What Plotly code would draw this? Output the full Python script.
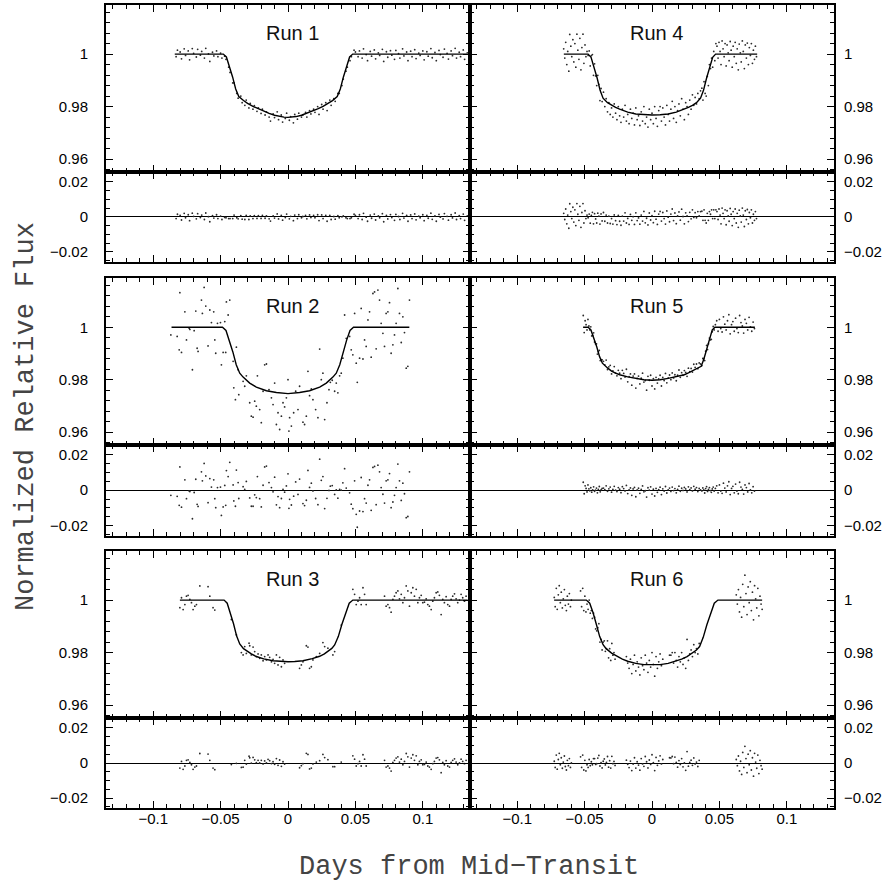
import plotly.graph_objects as go

# ---------------- axis settings / tick labels ----------------
X_RANGE = [-0.135, 0.135]
FLUX_RANGE = [0.9552, 1.0187]
RESID_RANGE = [-0.0258, 0.0258]

run_labels = ["Run 1", "Run 2", "Run 3", "Run 4", "Run 5", "Run 6"]
x_tickvals = [-0.1, -0.05, 0, 0.05, 0.1]
x_ticktext = ["\u22120.1", "\u22120.05", "0", "0.05", "0.1"]
flux_tickvals = [0.96, 0.98, 1.0]
flux_ticktext = ["0.96", "0.98", "1"]
resid_tickvals = [-0.02, 0, 0.02]
resid_ticktext = ["\u22120.02", "0", "0.02"]

# ---------------- data (times in 1e-3 day, residuals in 1e-3) ----------------
# Run 1
run1_t = ([-83, -82, -80, -79, -77, -76, -74, -73, -71, -70, -68, -67, -65, -64, -62, -61, -59, -58, -56, -55, -53, -52, -50]
          + [-49, -47, -46, -44, -43, -41, -40, -38, -37]
          + [-35, -34, -32, -31, -29, -28, -26, -25, -23, -22, -20, -19, -17, -16, -14, -13, -11, -10, -8, -7, -5, -4, -2, -1,
             1, 2, 4, 5, 7, 8, 10, 11, 13, 14, 16, 17, 19, 20, 22, 23, 25, 26, 28, 29, 31, 32, 34, 35]
          + [37, 38, 40, 41, 43, 44, 46, 47]
          + [49, 50, 52, 53, 55, 56, 58, 59, 61, 62, 64, 65, 67, 68, 70, 71, 73, 74, 76, 77, 79, 80, 82, 83, 85, 86, 88, 89,
             91, 92, 94, 95, 97, 98, 100, 101, 103, 104, 106, 107, 109, 110, 112, 113, 115, 116, 118, 119, 121, 122, 124, 125,
             127, 128, 130, 131, 133])
run1_flux = ([0.9990, 1.0015, 1.0008, 0.9982, 1.0020, 0.9995, 1.0012, 0.9978, 1.0021, 1.0003, 0.9989, 1.0018, 0.9996, 1.0010,
              0.9985, 1.0022, 1.0001, 0.9972, 1.0007, 0.9993, 1.0012, 0.9990, 1.0004]
             + [0.9985, 0.9992, 0.9980, 0.9950, 0.9930, 0.9890, 0.9890, 0.9850, 0.9832]
             + [0.9840, 0.9815, 0.9805, 0.9825, 0.9795, 0.9812, 0.9790, 0.9804, 0.9782, 0.9795, 0.9774, 0.9790, 0.9768, 0.9780,
                0.9760, 0.9745, 0.9772, 0.9758, 0.9780, 0.9750, 0.9768, 0.9741, 0.9755, 0.9775,
                0.9748, 0.9762, 0.9738, 0.9770, 0.9752, 0.9775, 0.9760, 0.9768, 0.9778, 0.9760, 0.9785, 0.9772, 0.9790, 0.9778,
                0.9800, 0.9770, 0.9808, 0.9790, 0.9815, 0.9785, 0.9825, 0.9805, 0.9830, 0.9820]
             + [0.9850, 0.9850, 0.9880, 0.9905, 0.9935, 0.9950, 0.9975, 0.9990]
             + [1.0015, 1.0008, 0.9990, 1.0012, 0.9985, 1.0020, 0.9998, 0.9975, 1.0010, 0.9992, 1.0016, 0.9982, 1.0005, 0.9995,
                1.0018, 0.9972, 1.0009, 0.9988, 1.0013, 0.9996, 0.9980, 1.0014, 1.0002, 0.9985, 1.0020, 0.9993, 1.0008, 0.9975,
                1.0011, 0.9990, 1.0017, 0.9983, 1.0004, 0.9995, 1.0012, 0.9978, 1.0009, 0.9992, 1.0021, 0.9986, 1.0006, 0.9975,
                1.0014, 0.9998, 0.9988, 1.0019, 1.0003, 0.9981, 1.0012, 0.9994, 1.0022, 0.9985, 1.0007, 0.9990, 1.0016, 0.9980,
                1.0005])
run1_resid = ([-1.0, 1.5, 0.8, -1.8, 2.0, -0.5, 1.2, -2.2, 2.1, 0.3, -1.1, 1.8, -0.4, 1.0, -1.5, 2.2, 0.1, -2.8, 0.7, -0.7,
               1.2, -1.0, 0.4]
              + [-1.5, -0.3, -0.5, -1.0, -1.0, -1.0, 1.0, -0.5, -1.1]
              + [0.7, -1.3, -1.5, 0.8, -1.5, 0.6, -1.0, 0.7, -0.9, 0.7, -0.9, 0.9, -0.8, 0.6, -1.1, -2.4, 0.6, -0.7, 1.7, -1.2,
                 0.8, -1.9, -0.4, 1.6,
                 -1.1, 0.3, -2.2, 1.0, -1.0, 1.2, -0.5, 0.2, 0.9, -1.1, 1.1, -0.4, 0.9, -0.5, 1.2, -2.1, 1.1, -1.0, 0.9, -2.5,
                 0.8, -1.5, 0.2, -1.3]
              + [0.7, -0.5, 0.0, 0.5, -0.5, -1.0, -1.0, -0.5]
              + [1.5, 0.8, -1.0, 1.2, -1.5, 2.0, -0.2, -2.5, 1.0, -0.8, 1.6, -1.8, 0.5, -0.5, 1.8, -2.8, 0.9, -1.2, 1.3, -0.4,
                 -2.0, 1.4, 0.2, -1.5, 2.0, -0.7, 0.8, -2.5, 1.1, -1.0, 1.7, -1.7, 0.4, -0.5, 1.2, -2.2, 0.9, -0.8, 2.1, -1.4,
                 0.6, -2.5, 1.4, -0.2, -1.2, 1.9, 0.3, -1.9, 1.2, -0.6, 2.2, -1.5, 0.7, -1.0, 1.6, -2.0, 0.5])
run1_model_t = [-84, -48.0, -45.7, -43.4, -41.1, -38.8, -36.5, -33, -30, -26, -22, -18, -14, -10, -6, -3, 0,
                3, 6, 10, 14, 18, 22, 26, 30, 33, 36.5, 38.8, 41.1, 43.4, 45.7, 48.0, 133]
run1_model_flux = [1.0, 1.0, 0.9989, 0.9955, 0.9913, 0.9867, 0.9838, 0.9823, 0.9812, 0.9801, 0.9791, 0.9782, 0.9774, 0.9767,
                   0.9762, 0.9760, 0.9759, 0.9760, 0.9762, 0.9767, 0.9774, 0.9782, 0.9791, 0.9801, 0.9812, 0.9823, 0.9838,
                   0.9867, 0.9913, 0.9955, 0.9989, 1.0, 1.0]

# Run 2
run2_t = ([-86.9, -82.2, -80.7, -80.2, -79.0, -76.5, -75.3, -73.3, -72.8, -70.9, -69.6, -68.4, -67.4, -66.7, -64.2, -63.5,
           -62.2, -61.0, -59.3, -58.0, -56.8, -55.1, -54.3, -53.6, -52.3, -50.1, -49.4, -48.1, -46.9, -46.2, -45.7, -44.4, -43.2]
          + [-40.7, -40.2, -39.0, -38.3, -37.0, -36.5, -33.3, -32.1, -30.9, -28.4, -27.2, -25.9, -24.7, -23.5, -22.7, -21.0,
             -19.8, -18.5, -17.3, -16.0, -14.1, -12.3, -11.1, -9.9, -8.6, -7.4, -6.2, -4.9, -3.7, -2.5, -1.2, 0.0, 0.7, 1.2,
             2.5, 4.2, 5.7, 7.4, 8.6, 11.1, 12.3, 13.6, 14.8, 16.0, 17.3, 18.5, 20.5, 22.2, 23.5, 24.7, 25.9, 27.2, 28.9,
             30.4, 31.4, 32.8, 34.6, 35.8, 37.0, 38.3, 39.5, 40.7]
          + [42.0, 43.2, 45.7, 46.9, 48.1, 49.4, 50.6, 51.4, 53.1, 54.3, 55.6, 56.8, 58.0, 59.3, 60.5, 61.7, 63.0, 64.2,
             65.4, 66.7, 67.9, 69.1, 70.4, 71.6, 72.8, 74.1, 75.3, 76.5, 77.8, 79.0, 80.2, 81.5, 82.7, 84.0, 85.2, 86.4,
             87.7, 88.9, 90.1])
run2_flux = ([0.9971, 0.9965, 0.9914, 1.0132, 0.9904, 1.0059, 0.9952, 0.9996, 0.9992, 0.9838, 0.9987, 1.0062, 0.9920, 0.9908,
              1.0104, 1.0053, 1.0152, 1.0081, 0.9929, 1.0066, 1.0018, 1.0059, 0.9952, 0.9901, 1.0015, 1.0018, 0.9857, 0.9904,
              1.0022, 0.9904, 1.0097, 1.0047, 1.0104]
             + [0.9870, 0.9769, 0.9724, 0.9924, 0.9838, 0.9743, 0.9794, 0.9775, 0.9815, 0.9712, 0.9661, 0.9657, 0.9718, 0.9699,
                0.9815, 0.9686, 0.9636, 0.9756, 0.9857, 0.9860, 0.9762, 0.9731, 0.9705, 0.9787, 0.9629, 0.9674, 0.9610, 0.9661,
                0.9712, 0.9696, 0.9731, 0.9800, 0.9604, 0.9655, 0.9623, 0.9674, 0.9756, 0.9686, 0.9775, 0.9638, 0.9629, 0.9661,
                0.9832, 0.9739, 0.9765, 0.9724, 0.9686, 0.9655, 0.9917, 0.9800, 0.9825, 0.9648, 0.9712, 0.9762, 0.9790, 0.9798,
                0.9756, 0.9787, 0.9750, 0.9815, 0.9825, 0.9882]
             + [1.0047, 0.9958, 0.9965, 0.9914, 0.9895, 1.0053, 0.9863, 0.9790, 0.9882, 1.0072, 0.9879, 0.9952, 0.9927, 1.0028,
                1.0059, 0.9886, 1.0129, 1.0135, 0.9918, 1.0142, 1.0104, 1.0015, 0.9977, 0.9927, 1.0053, 1.0059, 1.0094, 0.9901,
                0.9933, 0.9971, 1.0015, 1.0148, 1.0053, 0.9942, 1.0040, 0.9980, 0.9844, 0.9851, 1.0104])
run2_resid = ([-2.9, -3.5, -8.6, 13.2, -9.6, 5.9, -4.8, -0.4, -0.8, -16.2, -1.3, 6.2, -8.0, -9.2, 10.4, 5.3, 15.2, 8.1,
               -7.1, 6.6, 1.8, 5.9, -4.8, -9.9, 1.5, 1.8, -14.3, -9.5, 2.7, -8.6, 11.1, 7.7, 15.8]
              + [3.0, -6.1, -9.1, 11.4, 4.3, -4.7, 2.0, 0.5, 5.0, -4.4, -9.1, -9.1, -2.6, -4.2, 7.7, -4.8, -9.5, 2.8, 13.2,
                 13.7, 4.3, 1.5, -0.9, 7.4, -8.3, -3.6, -9.9, -4.7, 0.5, -1.1, 2.4, 9.3, -10.3, -5.2, -8.4, -3.4, 4.7, -2.4,
                 6.3, -7.6, -8.7, -5.7, 11.2, 1.6, 4.0, -0.4, -4.7, -8.2, 17.6, 5.6, 7.7, -10.4, -4.6, -0.1, 2.3, 2.6, -2.4,
                 0.2, -4.5, 0.5, 0.0, 4.2]
              + [12.2, 1.2, -1.5, -7.9, -10.5, 5.3, -13.7, -21.0, -11.8, 7.2, -12.1, -4.8, -7.3, 2.8, 5.9, -11.4, 12.9, 13.5,
                 -8.2, 14.2, 10.4, 1.5, -2.3, -7.3, 5.3, 5.9, 9.4, -9.9, -6.7, -2.9, 1.5, 14.8, 5.3, -5.8, 4.0, -2.0, -15.6,
                 -14.9, 10.4])
run2_model_t = [-86.4, -48.6, -46.0, -43.5, -40.9, -38.4, -35.8, -33.3, -28.4, -23.5, -16.0, -8.6, 0,
                8.6, 16.0, 23.5, 28.4, 33.3, 35.8, 38.4, 40.9, 43.5, 46.0, 48.6, 90.0]
run2_model_flux = [1.0, 1.0, 0.9988, 0.9951, 0.9906, 0.9857, 0.9825, 0.9810, 0.9787, 0.9772, 0.9758, 0.9751, 0.9747,
                   0.9751, 0.9758, 0.9772, 0.9787, 0.9810, 0.9825, 0.9857, 0.9906, 0.9951, 0.9988, 1.0, 1.0]

# Run 3
run3_t = ([-80.2, -79.0, -77.8, -76.5, -75.3, -74.1, -72.8, -71.6, -70.4, -69.1, -67.9, -65.4, -59.3, -58.0, -55.6, -54.3]
          + [-42.0, -38.3]
          + [-34.6, -33.3, -32.1, -30.9, -28.9, -28.4, -27.2, -25.9, -24.7, -23.5, -22.2, -21.0, -19.8, -18.5, -17.3, -16.0,
             -14.8, -13.6, -12.3, -11.1, -9.9, -8.6, -7.4, -6.2, -4.9, -3.7, -2.5]
          + [8.6, 9.9, 11.1, 13.6, 14.8, 16.0, 17.3, 18.5, 21.0, 23.5, 25.9, 27.2, 29.6, 33.3, 34.6]
          + [39.5]
          + [48.1, 49.4, 50.6, 51.9, 53.1, 54.3, 55.6, 56.8, 58.0]
          + [71.6, 72.8, 74.1, 75.3, 76.5, 77.8, 79.0, 80.2, 81.5, 82.7, 84.0, 85.2, 86.4, 87.7, 88.9, 90.1, 91.4, 92.6,
             93.8, 95.1, 96.3, 97.5, 98.8, 100.0, 101.2, 102.5, 103.7, 104.9, 106.2, 107.4, 108.6, 109.9, 111.1, 112.3,
             113.6, 114.8, 116.0, 117.3, 118.5, 119.8, 121.0, 122.2, 123.5, 124.7, 125.9, 127.2, 128.4, 129.6, 130.9, 132.1])
run3_flux = ([0.9971, 1.0009, 0.9964, 0.9983, 1.0015, 1.0018, 1.0003, 0.9990, 0.9964, 0.9977, 0.9983, 1.0054, 1.0051, 1.0015,
              0.9971, 0.9962]
             + [0.9926, 0.9868]
             + [0.9800, 0.9791, 0.9823, 0.9797, 0.9836, 0.9826, 0.9791, 0.9821, 0.9804, 0.9785, 0.9795, 0.9778, 0.9791, 0.9769,
                0.9785, 0.9772, 0.9791, 0.9782, 0.9765, 0.9774, 0.9759, 0.9791, 0.9753, 0.9782, 0.9746, 0.9772, 0.9759]
             + [0.9740, 0.9753, 0.9765, 0.9826, 0.9821, 0.9740, 0.9746, 0.9772, 0.9785, 0.9797, 0.9838, 0.9823, 0.9817, 0.9791,
                0.9804]
             + [0.9905]
             + [1.0041, 1.0022, 0.9983, 0.9996, 1.0009, 0.9983, 1.0047, 1.0022, 0.9983]
             + [1.0015, 0.9977, 0.9983, 0.9971, 0.9954, 1.0003, 1.0015, 1.0028, 1.0035, 1.0005, 1.0022, 0.9990, 1.0009, 1.0054,
                1.0035, 0.9977, 1.0028, 1.0047, 1.0015, 1.0041, 0.9990, 1.0009, 1.0018, 0.9990, 0.9992, 1.0005, 0.9983, 0.9977,
                0.9964, 0.9996, 1.0009, 1.0028, 1.0031, 1.0018, 0.9945, 1.0003, 0.9990, 1.0013, 0.9983, 0.9977, 1.0003, 1.0015,
                1.0024, 1.0005, 0.9990, 1.0000, 1.0022, 1.0009, 0.9996, 1.0015])
run3_resid = ([-2.9, 0.9, -3.6, -1.7, 1.5, 1.8, 0.3, -1.0, -3.6, -2.3, -1.7, 5.4, 5.1, 1.5, -2.9, -3.8]
              + [-0.9, -0.2]
              + [-2.5, -2.4, 1.5, -0.6, 3.9, 3.0, -0.1, 3.2, 1.8, 0.2, 1.5, 0.0, 1.5, -0.5, 1.2, 0.1, 2.1, 1.3, -0.3, 0.7,
                 -0.7, 2.5, -1.3, 1.7, -1.9, 0.7, -0.6]
              + [-2.7, -1.5, -0.4, 5.5, 4.9, -3.4, -2.9, -0.5, 0.5, 1.3, 4.9, 3.1, 1.9, -2.1, -2.1]
              + [0.5]
              + [4.1, 2.2, -1.7, -0.4, 0.9, -1.7, 4.7, 2.2, -1.7]
              + [1.5, -2.3, -1.7, -2.9, -4.6, 0.3, 1.5, 2.8, 3.5, 0.5, 2.2, -1.0, 0.9, 5.4, 3.5, -2.3, 2.8, 4.7, 1.5, 4.1,
                 -1.0, 0.9, 1.8, -1.0, -0.8, 0.5, -1.7, -2.3, -3.6, -0.4, 0.9, 2.8, 3.1, 1.8, -5.5, 0.3, -1.0, 1.3, -1.7, -2.3,
                 0.3, 1.5, 2.4, 0.5, -1.0, 0.0, 2.2, 0.9, -0.4, 1.5])
run3_model_t = [-80.2, -47.4, -45.1, -42.8, -40.4, -38.1, -35.8, -33.0, -30.0, -27.2, -23.5, -18.0, -11.1, -5.0, 0,
                5.0, 11.1, 18.0, 23.5, 27.0, 30.0, 32.5, 34.6, 37.3, 40.0, 42.7, 45.4, 48.1, 133.3]
run3_model_flux = [1.0, 1.0, 0.9988, 0.9953, 0.9910, 0.9863, 0.9833, 0.9815, 0.9804, 0.9795, 0.9785, 0.9776, 0.9769,
                   0.9766, 0.9765, 0.9766, 0.9769, 0.9777, 0.9786, 0.9795, 0.9805, 0.9816, 0.9829, 0.9861, 0.9908, 0.9952,
                   0.9988, 1.0, 1.0]

# Run 4
run4_t = ([-65.5, -64.7, -64.0, -63.2, -62.5, -61.7, -61.0, -60.2, -59.5, -58.7, -58.0, -57.2, -56.5, -55.7, -55.0, -54.2,
           -53.5, -52.7, -52.0, -51.2, -50.5, -49.7, -49.0, -48.2]
          + [-47.4, -46.6, -45.8, -45.0, -44.2, -43.4, -42.6, -41.8, -41.0, -40.2, -39.4, -38.6, -37.8, -37.0]
          + [-36, -35, -34, -33, -32, -31, -30, -29, -28, -27, -26, -25, -24, -23, -22, -21, -20, -19, -18, -17, -16, -15,
             -14, -13, -12, -11, -10, -9, -8, -7, -6, -5, -4, -3, -2, -1, 0, 1, 2, 3, 4, 5, 6, 7, 8, 9, 10, 11, 12, 13, 14,
             15, 16, 17, 18, 19, 20, 21, 22, 23, 24, 25, 26, 27, 28, 29, 30, 31, 32, 33, 34, 35, 36]
          + [37.0, 37.8, 38.6, 39.4, 40.2, 41.0, 41.8, 42.6, 43.4, 44.2, 45.0, 45.8, 46.6, 47.4]
          + [48.2, 49.0, 49.7, 50.5, 51.2, 52.0, 52.7, 53.5, 54.2, 55.0, 55.7, 56.5, 57.2, 58.0, 58.7, 59.5, 60.2, 61.0,
             61.7, 62.5, 63.2, 64.0, 64.7, 65.5, 66.2, 67.0, 67.7, 68.5, 69.2, 70.0, 70.7, 71.5, 72.2, 73.0, 73.7, 74.5,
             75.2, 76.0, 76.7, 77.5])
run4_flux = ([1.0020, 0.9985, 1.0045, 0.9960, 1.0010, 0.9935, 1.0075, 1.0030, 0.9990, 1.0055, 0.9970, 1.0040, 0.9950, 1.0076,
              1.0015, 0.9980, 1.0060, 0.9940, 1.0025, 1.0076, 0.9965, 1.0035, 0.9990, 1.0010]
             + [0.9995, 1.0012, 0.9955, 0.9994, 0.9998, 0.9919, 0.9963, 0.9917, 0.9880, 0.9919, 0.9885, 0.9823, 0.9869, 0.9819]
             + [0.9855, 0.9800, 0.9830, 0.9780, 0.9815, 0.9770, 0.9795, 0.9760, 0.9810, 0.9775,
                0.9750, 0.9800, 0.9765, 0.9740, 0.9790, 0.9760, 0.9805, 0.9745, 0.9770, 0.9735,
                0.9790, 0.9755, 0.9775, 0.9730, 0.9795, 0.9750, 0.9765, 0.9728, 0.9780, 0.9745,
                0.9800, 0.9735, 0.9760, 0.9722, 0.9790, 0.9750, 0.9775, 0.9735, 0.9800, 0.9755,
                0.9725, 0.9785, 0.9800, 0.9745, 0.9795, 0.9760, 0.9730, 0.9805, 0.9770, 0.9745,
                0.9790, 0.9820, 0.9755, 0.9800, 0.9740, 0.9785, 0.9810, 0.9765, 0.9830, 0.9790,
                0.9750, 0.9815, 0.9800, 0.9770, 0.9825, 0.9790, 0.9845, 0.9805, 0.9835, 0.9810,
                0.9850, 0.9830, 0.9860]
             + [0.9870, 0.9825, 0.9895, 0.9850, 0.9840, 0.9915, 0.9880, 0.9960, 0.9945, 0.9985, 0.9950, 1.0010, 0.9975, 1.0040]
             + [1.0030, 0.9985, 1.0045, 1.0010, 0.9960, 1.0050, 1.0020, 0.9990, 1.0040, 0.9955, 1.0035, 1.0005, 0.9975, 1.0048,
                1.0015, 0.9950, 1.0030, 0.9990, 1.0045, 0.9965, 1.0020, 0.9940, 1.0038, 1.0005, 0.9970, 1.0050, 1.0010, 0.9945,
                1.0035, 0.9985, 1.0042, 0.9960, 1.0025, 0.9995, 1.0040, 0.9965, 1.0015, 0.9980, 1.0030, 0.9990])
run4_resid = ([2.0, -1.5, 4.5, -4.0, 1.0, -6.5, 7.5, 3.0, -1.0, 5.5, -3.0, 4.0, -5.0, 7.6, 1.5, -2.0, 6.0, -6.0, 2.5, 7.6,
               -3.5, 3.5, -1.0, 1.0]
              + [-0.5, 1.6, -3.6, 0.9, 2.6, -4.0, 1.8, -1.2, -3.5, 2.1, 0.4, -4.1, 1.7, -2.3]
              + [2.5, -2.5, 1.0, -3.5, 0.4, -3.8, -1.0, -4.1, 1.1, -2.2, -4.4, 0.8, -2.5, -4.8, 0.4, -2.4, 2.3, -3.5, -0.9,
                 -4.3, 1.4, -2.0, 0.1, -4.3, 2.3, -2.1, -0.6, -4.2, 1.0, -2.4, 3.1, -3.4, -0.8, -4.6, 2.2, -1.8, 0.7, -3.3,
                 3.2, -1.3, -4.3, 1.6, 3.1, -2.4, 2.5, -1.0, -4.1, 3.4, -0.2, -2.8, 1.6, 4.5, -2.1, 2.2, -3.9, 0.5, 2.8,
                 -1.9, 4.4, 0.2, -4.0, 2.3, 0.6, -2.7, 2.6, -1.1, 4.0, -0.3, 2.4, -0.5, 3.0, 0.5, 3.0]
              + [3.2, -2.0, 4.0, -2.0, -3.5, 2.0, -2.0, 3.0, 1.5, 4.0, -1.0, 4.0, -1.0, 4.0]
              + [3.0, -1.5, 4.5, 1.0, -4.0, 5.0, 2.0, -1.0, 4.0, -4.5, 3.5, 0.5, -2.5, 4.8, 1.5, -5.0, 3.0, -1.0, 4.5, -3.5,
                 2.0, -6.0, 3.8, 0.5, -3.0, 5.0, 1.0, -5.5, 3.5, -1.5, 4.2, -4.0, 2.5, -0.5, 4.0, -3.5, 1.5, -2.0, 3.0, -1.0])
run4_model_t = [-65.4, -47.4, -45.2, -43.0, -40.7, -38.5, -36.3, -33, -30, -27, -24, -18, -12, -6, 0,
                6, 12, 18, 24, 27, 30, 33, 36.0, 38.2, 40.5, 42.7, 45.0, 47.2, 78.0]
run4_model_flux = [1.0, 1.0, 0.9988, 0.9953, 0.9909, 0.9862, 0.9832, 0.9815, 0.9805, 0.9797, 0.9790, 0.9779, 0.9772,
                   0.9769, 0.9768, 0.9769, 0.9772, 0.9779, 0.9790, 0.9797, 0.9805, 0.9815, 0.9832, 0.9862, 0.9909, 0.9953,
                   0.9988, 1.0, 1.0]

# Run 5
run5_t = ([-51.0, -50.3, -49.6, -48.9, -48.2, -47.5]
          + [-46.8, -46.1, -45.4, -44.7, -44.0, -43.3, -42.6, -41.9, -41.2, -40.5, -39.8, -39.1, -38.4, -37.7, -37.0]
          + [-36, -35, -34, -33, -32, -31, -30, -29, -28, -27, -26, -25, -24, -23, -22, -21, -20, -19, -18, -17, -16, -15,
             -14, -13, -12, -11, -10, -9, -8, -7, -6, -5, -4, -3, -2, -1, 0, 1, 2, 3, 4, 5, 6, 7, 8, 9, 10, 11, 12, 13, 14,
             15, 16, 17, 18, 19, 20, 21, 22, 23, 24, 25, 26, 27, 28, 29, 30, 31, 32, 33, 34, 35, 36]
          + [37.0, 37.7, 38.4, 39.1, 39.8, 40.5, 41.2, 41.9, 42.6, 43.3, 44.0, 44.7, 45.4, 46.1]
          + [47, 48, 49, 50, 51, 52, 53, 54, 55, 56, 57, 58, 59, 60, 61, 62, 63, 64, 65, 66, 67, 68, 69, 70, 71, 72, 73, 74,
             75, 76])
run5_flux = ([1.0045, 0.9980, 1.0025, 1.0010, 0.9990, 1.0030]
             + [1.0005, 0.9990, 1.0002, 0.9967, 0.9969, 0.9979, 0.9944, 0.9937, 0.9937, 0.9898, 0.9907, 0.9912, 0.9873, 0.9877,
                0.9876]
             + [0.9870, 0.9857, 0.9875, 0.9839, 0.9849, 0.9855, 0.9822, 0.9834, 0.9850, 0.9825,
                0.9815, 0.9836, 0.9825, 0.9804, 0.9836, 0.9824, 0.9810, 0.9840, 0.9792, 0.9812,
                0.9822, 0.9779, 0.9814, 0.9822, 0.9768, 0.9805, 0.9814, 0.9784, 0.9806, 0.9825,
                0.9791, 0.9797, 0.9760, 0.9813, 0.9798, 0.9817, 0.9776, 0.9804, 0.9765, 0.9809,
                0.9787, 0.9803, 0.9817, 0.9776, 0.9809, 0.9797, 0.9824, 0.9788, 0.9807, 0.9818,
                0.9800, 0.9826, 0.9807, 0.9819, 0.9796, 0.9817, 0.9837, 0.9809, 0.9827, 0.9817,
                0.9835, 0.9828, 0.9813, 0.9844, 0.9831, 0.9843, 0.9829, 0.9859, 0.9847, 0.9860,
                0.9842, 0.9864, 0.9860]
             + [0.9854, 0.9881, 0.9880, 0.9873, 0.9909, 0.9931, 0.9915, 0.9937, 0.9959, 0.9952, 0.9954, 0.9983, 1.0003, 0.9990]
             + [1.0010, 1.0025, 0.9985, 1.0030, 0.9995, 0.9982, 1.0040, 1.0012, 0.9990, 1.0025, 1.0048, 0.9975, 1.0010, 1.0022,
                0.9985, 1.0035, 0.9995, 0.9980, 1.0045, 1.0018, 1.0005, 0.9978, 1.0030, 1.0015, 0.9990, 1.0038, 1.0002, 0.9985,
                1.0020, 0.9995])
run5_resid = ([4.5, -2.0, 2.5, 1.0, -1.0, 3.0]
              + [0.8, -0.3, 1.4, -1.1, 0.2, 1.9, -0.6, 0.0, 1.2, -1.5, 0.5, 2.1, -0.9, 0.3, 1.0]
              + [1.2, 0.3, 2.5, -0.6, 0.8, 1.8, -1.1, 0.4, 2.2, 0.0, -0.8, 1.5, 0.6, -1.4, 2.0, 0.9, -0.4, 2.7, -1.9, 0.2,
                 1.3, -2.9, 0.7, 1.6, -3.7, 0.1, 1.1, -1.8, 0.5, 2.4, -0.9, -0.3, -3.9, 1.4, 0.0, 1.9, -2.2, 0.6, -3.3, 1.0,
                 -1.2, 0.3, 1.7, -2.5, 0.8, -0.5, 2.1, -1.6, 0.2, 1.2, -0.7, 1.8, -0.2, 0.9, -1.5, 0.4, 2.3, -0.6, 1.1, -0.1,
                 1.6, 0.7, -1.0, 1.9, 0.3, 1.3, -0.4, 2.2, 0.6, 1.5, -0.8, 1.0, 0.2]
              + [-0.4, 1.3, 0.2, -1.6, 0.9, 2.0, -0.7, 0.4, 1.5, -0.2, -1.2, 0.7, 1.8, -0.5]
              + [1.0, 2.5, -1.5, 3.0, -0.5, -1.8, 4.0, 1.2, -1.0, 2.5, 4.8, -2.5, 1.0, 2.2, -1.5, 3.5, -0.5, -2.0, 4.5, 1.8,
                 0.5, -2.2, 3.0, 1.5, -1.0, 3.8, 0.2, -1.5, 2.0, -0.5])
run5_model_t = [-51.1, -47.4, -45.3, -43.2, -41.0, -38.9, -36.8, -33, -30, -27, -24, -18, -12, -6, 0,
                6, 12, 18, 24, 27, 30, 33, 36.5, 38.5, 40.6, 42.6, 44.7, 46.7, 76.3]
run5_model_flux = [1.0, 1.0, 0.9990, 0.9962, 0.9926, 0.9888, 0.9863, 0.9845, 0.9833, 0.9825, 0.9819, 0.9811, 0.9805,
                   0.9800, 0.9798, 0.9800, 0.9805, 0.9811, 0.9819, 0.9826, 0.9833, 0.9842, 0.9851, 0.9879, 0.9917, 0.9957,
                   0.9990, 1.0, 1.0]

# Run 6
run6_t = ([-72.5, -71.8, -71.0, -70.3, -69.5, -68.8, -68.0, -67.3, -66.5, -65.8, -65.0, -64.3, -63.5, -62.8, -62.0, -61.3,
           -60.5, -59.8]
          + [-53.0, -52.2, -51.4, -50.6, -49.8, -49.0, -48.2, -47.4, -46.6, -45.8, -45.0, -44.2, -43.4, -42.6, -41.8, -41.0,
             -40.2, -39.4, -38.6, -37.8, -37.0, -36.2, -35.4, -34.6, -33.8, -33.0, -32.2, -31.4, -30.6, -29.8, -29.0, -28.2,
             -27.4]
          + [-19, -18, -17, -16, -15, -14, -13, -12, -11, -10, -9, -8, -7, -6, -5, -4, -3, -2, -1, 0, 1, 2, 3, 4, 5, 6, 7, 8]
          + [13, 14, 15, 16, 17, 18, 19, 20, 21, 22, 23, 24, 25, 26, 27, 28, 29, 30, 31, 32, 33, 34, 35]
          + [62.5, 63.3, 64.1, 64.9, 65.7, 66.5, 67.3, 68.1, 68.9, 69.7, 70.5, 71.3, 72.1, 72.9, 73.7, 74.5, 75.3, 76.1,
             76.9, 77.7, 78.5, 79.3, 80.1, 80.9, 81.7])
run6_flux = ([1.0010, 0.9975, 1.0045, 0.9965, 1.0020, 1.0055, 0.9990, 1.0030, 0.9970, 1.0005, 1.0040, 0.9980, 0.9960, 1.0015,
              0.9985, 1.0025, 0.9975, 1.0000]
             + [1.0035, 0.9975, 1.0045, 0.9960, 1.0015, 0.9955, 0.9985, 0.9965, 1.0000, 0.9950, 0.9960, 0.9930, 0.9950, 0.9935,
                0.9890, 0.9883, 0.9895, 0.9910, 0.9840, 0.9850, 0.9810, 0.9840, 0.9845, 0.9805, 0.9815, 0.9845, 0.9780, 0.9815,
                0.9770, 0.9835, 0.9790, 0.9800, 0.9775]
             + [0.9785, 0.9760, 0.9740, 0.9775, 0.9720, 0.9755, 0.9790, 0.9730, 0.9765, 0.9745, 0.9715, 0.9780, 0.9750, 0.9735,
                0.9790, 0.9760, 0.9725, 0.9770, 0.9745, 0.9800, 0.9755, 0.9710, 0.9785, 0.9740, 0.9765, 0.9795, 0.9750, 0.9775]
             + [0.9790, 0.9790, 0.9800, 0.9760, 0.9800, 0.9770, 0.9745, 0.9785, 0.9765, 0.9800, 0.9755, 0.9780, 0.9740, 0.9850,
                0.9770, 0.9795, 0.9810, 0.9785, 0.9830, 0.9800, 0.9815, 0.9795, 0.9835]
             + [1.0020, 0.9985, 1.0040, 0.9955, 1.0010, 0.9935, 1.0060, 0.9975, 1.0095, 1.0025, 0.9945, 1.0050, 0.9990, 1.0070,
                0.9960, 1.0030, 0.9925, 1.0055, 1.0005, 0.9970, 1.0045, 0.9940, 1.0015, 0.9985, 0.9965])
run6_resid = ([1.0, -2.5, 4.5, -3.5, 2.0, 5.5, -1.0, 3.0, -3.0, 0.5, 4.0, -2.0, -4.0, 1.5, -1.5, 2.5, -2.5, 0.0]
              + [3.5, -2.5, 4.5, -4.0, 1.5, -4.5, -1.0, -2.5, 2.0, -1.5, 0.7, -1.0, 2.5, 2.5, -0.8, -0.4, 2.8, 4.3, -1.7,
                 0.2, -2.8, 1.0, 2.3, -1.1, 0.4, 3.7, -2.4, 1.3, -2.9, 3.8, -0.4, 0.9, -1.4]
              + [1.6, -0.7, -2.6, 1.1, -4.3, -0.6, 3.0, -2.9, 0.7, -1.2, -4.1, 2.5, -0.5, -1.9, 3.7, 0.7, -2.8, 1.7, -0.8,
                 4.7, 0.2, -4.3, 3.2, -1.3, 1.2, 4.1, -0.5, 2.0]
              + [3.0, 2.9, 3.7, -0.4, 3.4, 0.3, -2.4, 1.4, -0.8, 2.5, -2.2, 0.0, -4.2, 6.5, -1.8, 0.4, 1.6, -1.3, 2.9, -0.5,
                 0.5, -2.0, 1.5]
              + [2.0, -1.5, 4.0, -4.5, 1.0, -6.5, 6.0, -2.5, 9.5, 2.5, -5.5, 5.0, -1.0, 7.0, -4.0, 3.0, -7.5, 5.5, 0.5,
                 -3.0, 4.5, -6.0, 1.5, -1.5, -3.5])
run6_model_t = [-72.6, -48.7, -46.2, -43.7, -41.3, -38.8, -36.3, -34, -30, -26, -22, -18, -12, -6, 0,
                6, 12, 18, 22, 26, 30, 33, 35.3, 38.0, 40.7, 43.5, 46.2, 48.9, 81.7]
run6_model_flux = [1.0, 1.0, 0.9988, 0.9952, 0.9908, 0.9861, 0.9830, 0.9815, 0.9798, 0.9785, 0.9775, 0.9767, 0.9759,
                   0.9754, 0.9753, 0.9754, 0.9759, 0.9767, 0.9775, 0.9785, 0.9798, 0.9810, 0.9823, 0.9858, 0.9906, 0.9951,
                   0.9988, 1.0, 1.0]

runs = [
    (run1_t, run1_flux, run1_resid, run1_model_t, run1_model_flux),
    (run2_t, run2_flux, run2_resid, run2_model_t, run2_model_flux),
    (run3_t, run3_flux, run3_resid, run3_model_t, run3_model_flux),
    (run4_t, run4_flux, run4_resid, run4_model_t, run4_model_flux),
    (run5_t, run5_flux, run5_resid, run5_model_t, run5_model_flux),
    (run6_t, run6_flux, run6_resid, run6_model_t, run6_model_flux),
]

# ---------------- layout geometry (pixels) ----------------
W, H = 891, 889
col_px = [(106, 470), (470, 834)]
row_px = [(5, 171.7, 262), (278.3, 444.7, 535.7), (551, 717.7, 808.3)]


def fx(p):
    return p / W


def fy(p):
    return 1 - p / H


TICKFONT = dict(family="Liberation Sans, Arial, sans-serif", size=15, color="black")
DOT = dict(size=1.8, color="#2a2a2a")

fig = go.Figure()
layout = dict(width=W, height=H, margin=dict(l=0, r=0, t=0, b=0),
              plot_bgcolor="white", paper_bgcolor="white", showlegend=False)
annotations = []


def base_axis():
    return dict(showline=True, linecolor="black", linewidth=2, mirror="allticks",
                ticks="inside", ticklen=7, tickwidth=1.2, tickcolor="black",
                showgrid=False, zeroline=False, tickfont=TICKFONT, tickmode="array")


for r, (t, flux, resid, mt, mf) in enumerate(runs):
    col, row = r // 3, r % 3
    x0, x1 = col_px[col]
    top, mid, bot = row_px[row]
    for k, kind in enumerate(["flux", "resid"]):
        i = 2 * r + 1 + k
        xs = "" if i == 1 else str(i)
        xa = base_axis()
        xa.update(domain=[fx(x0), fx(x1)], anchor="y" + xs, range=X_RANGE,
                  tickvals=x_tickvals, ticktext=x_ticktext,
                  showticklabels=(kind == "resid" and row == 2), ticklabelstandoff=-4,
                  minor=dict(tickmode="linear", tick0=0, dtick=0.01, ticks="inside", ticklen=4,
                             tickwidth=1.2, tickcolor="black", showgrid=False))
        ya = base_axis()
        if kind == "flux":
            ya.update(domain=[fy(mid), fy(top)], range=FLUX_RANGE,
                      tickvals=flux_tickvals, ticktext=flux_ticktext,
                      minor=dict(tickmode="linear", tick0=0.96, dtick=0.004, ticks="inside", ticklen=4,
                                 tickwidth=1.2, tickcolor="black", showgrid=False))
        else:
            ya.update(domain=[fy(bot), fy(mid)], range=RESID_RANGE,
                      tickvals=resid_tickvals, ticktext=resid_ticktext,
                      zeroline=True, zerolinecolor="black", zerolinewidth=1,
                      minor=dict(tickmode="linear", tick0=0, dtick=0.005, ticks="inside", ticklen=4,
                                 tickwidth=1.2, tickcolor="black", showgrid=False))
        ya.update(anchor="x" + xs, side="left" if col == 0 else "right",
                  ticklabelstandoff=13 if col == 0 else 5)
        layout["xaxis" + xs] = xa
        layout["yaxis" + xs] = ya

        tx = [v / 1000 for v in t]
        if kind == "flux":
            fig.add_trace(go.Scatter(x=tx, y=flux, mode="markers", marker=DOT,
                                     xaxis="x" + xs, yaxis="y" + xs, hoverinfo="skip"))
            fig.add_trace(go.Scatter(x=[v / 1000 for v in mt], y=mf, mode="lines",
                                     line=dict(color="black", width=1.4),
                                     xaxis="x" + xs, yaxis="y" + xs, hoverinfo="skip"))
            annotations.append(dict(text=run_labels[r], xref="x" + xs, yref="paper",
                                    x=0.003, y=fy(top + 27.5), showarrow=False,
                                    xanchor="center", yanchor="middle",
                                    font=dict(family="Liberation Sans, Arial, sans-serif", size=20,
                                              color="#111")))
        else:
            fig.add_trace(go.Scatter(x=tx, y=[v / 1000 for v in resid], mode="markers", marker=DOT,
                                     xaxis="x" + xs, yaxis="y" + xs, hoverinfo="skip"))

TITLEFONT = dict(family="Liberation Mono, Courier New, monospace", size=27, color="#444")
annotations.append(dict(text="Days from Mid\u2212Transit", xref="paper", yref="paper",
                        x=fx(469), y=fy(867), showarrow=False, xanchor="center", yanchor="middle",
                        font=TITLEFONT))
annotations.append(dict(text="Normalized Relative Flux", xref="paper", yref="paper",
                        x=fx(26), y=fy(417), showarrow=False, xanchor="center", yanchor="middle",
                        textangle=-90, font=TITLEFONT))
layout["annotations"] = annotations
fig.update_layout(**layout)
fig.write_html("out.html")
